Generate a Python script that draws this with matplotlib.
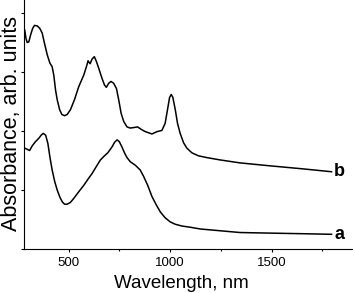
import matplotlib
matplotlib.use("Agg")
import matplotlib.pyplot as plt
from matplotlib.ticker import MultipleLocator

plt.rcParams['font.family'] = ['Liberation Sans', 'DejaVu Sans']

# spectrum b (upper curve)
wl_b = [283, 289, 295, 303, 312, 322, 331, 345, 357, 369, 380, 394, 407, 418,
        426, 435, 443, 455, 466, 479, 492, 508, 528, 549, 574, 587, 595, 605,
        615, 626, 636, 648, 664, 676, 685, 697, 708, 721, 735, 746, 758, 771,
        787, 803, 823, 839, 856, 877, 910, 935, 959, 975, 989, 997, 1005, 1013,
        1025, 1036, 1049, 1066, 1082, 1107, 1139, 1180, 1246, 1344, 1492, 1650,
        1795]
abs_b = [3.71, 3.57, 3.50, 3.51, 3.63, 3.74, 3.79, 3.78, 3.74, 3.66, 3.49, 3.29,
         3.15, 3.09, 2.95, 2.69, 2.53, 2.36, 2.28, 2.26, 2.28, 2.36, 2.53, 2.75,
         2.95, 3.09, 3.19, 3.14, 3.22, 3.26, 3.18, 3.06, 2.89, 2.78, 2.74, 2.81,
         2.84, 2.81, 2.72, 2.53, 2.30, 2.16, 2.07, 2.05, 2.06, 2.07, 2.03, 1.99,
         1.95, 1.99, 2.01, 2.13, 2.41, 2.57, 2.62, 2.57, 2.36, 2.13, 1.96, 1.80,
         1.71, 1.63, 1.58, 1.55, 1.51, 1.46, 1.41, 1.36, 1.31]

# spectrum a (lower curve)
wl_a = [283, 295, 307, 320, 336, 353, 364, 374, 386, 397, 407, 418, 431, 443,
        456, 468, 479, 492, 508, 525, 549, 574, 598, 615, 636, 656, 676, 692,
        713, 726, 738, 749, 762, 776, 787, 803, 828, 852, 869, 889, 910, 931,
        951, 975, 1000, 1025, 1058, 1098, 1148, 1246, 1344, 1492, 1650, 1795]
abs_a = [1.71, 1.69, 1.67, 1.75, 1.82, 1.88, 1.93, 1.96, 1.93, 1.79, 1.56, 1.34,
         1.14, 1.00, 0.88, 0.80, 0.76, 0.76, 0.79, 0.86, 0.97, 1.08, 1.20, 1.28,
         1.40, 1.51, 1.58, 1.63, 1.73, 1.81, 1.85, 1.82, 1.73, 1.62, 1.55, 1.48,
         1.42, 1.34, 1.23, 1.08, 0.89, 0.75, 0.63, 0.53, 0.46, 0.42, 0.39, 0.37,
         0.34, 0.31, 0.28, 0.27, 0.26, 0.25]

fig = plt.figure(figsize=(3.55, 2.93), dpi=100)
ax = fig.add_axes([0.068, 0.150, 0.923, 0.850])

ax.plot(wl_b, abs_b, color='black', lw=1.1)
ax.plot(wl_a, abs_a, color='black', lw=1.1)

ax.text(1808, abs_b[-1], 'b', fontsize=13, fontweight='bold', va='center', ha='left')
ax.text(1808, abs_a[-1], 'a', fontsize=13, fontweight='bold', va='center', ha='left')

ax.set_xlim(280, 1895)
ax.set_ylim(0, 4.22)
ax.xaxis.set_major_locator(MultipleLocator(500))
ax.xaxis.set_minor_locator(MultipleLocator(250))
ax.yaxis.set_major_locator(MultipleLocator(1))
ax.set_yticklabels([])
ax.tick_params(which='major', direction='out', length=2.5, width=0.8, labelsize=9.5, pad=3)
ax.tick_params(which='minor', direction='out', length=1.5, width=0.8)

for side in ('top', 'right'):
    ax.spines[side].set_visible(False)

ax.set_xlabel('Wavelength, nm', fontsize=13.5)
ax.set_ylabel('Absorbance, arb. units', fontsize=15.5)
ax.xaxis.set_label_coords(0.48, -0.105, transform=ax.transAxes)
ax.yaxis.set_label_coords(-0.006, 0.505, transform=ax.transAxes)

fig.savefig('out.png', dpi=100)
